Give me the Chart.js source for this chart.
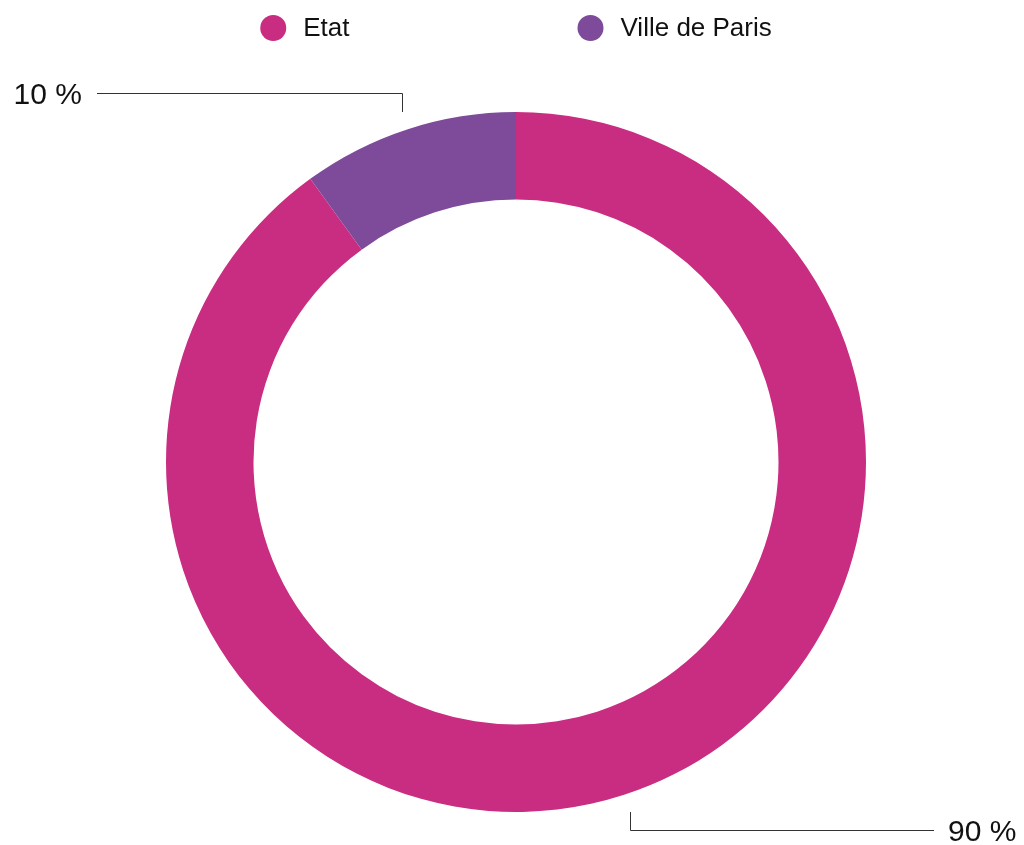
<!DOCTYPE html>
<html>
<head>
<meta charset="utf-8">
<script src="https://cdn.jsdelivr.net/npm/chart.js@4.4.1/dist/chart.umd.min.js"></script>
<style>
  html, body { margin: 0; padding: 0; background: #fff; }
  #wrap { width: 1024px; height: 845px; position: relative; }
</style>
</head>
<body>
<div id="wrap"><canvas id="donut"></canvas></div>
<script>
const labels = ['Etat', 'Ville de Paris'];
const values = [90, 10];
const colors = ['#C92D82', '#7E4A9A'];
const valueLabels = ['90 %', '10 %'];

const FONT = '"Liberation Sans", Arial, Helvetica, sans-serif';

// legend + leader-line labels drawn on the canvas
const extras = {
  id: 'extras',
  afterDraw(chart) {
    const ctx = chart.ctx;
    const area = chart.chartArea;
    const cx = (area.left + area.right) / 2;
    const arcs = chart.getDatasetMeta(0).data;

    // legend
    ctx.save();
    ctx.font = '26px ' + FONT;
    ctx.textBaseline = 'middle';
    const dot = 13, gapText = 17, gapItems = 228, ly = 28;
    const widths = labels.map(l => dot * 2 + gapText + ctx.measureText(l).width);
    const total = widths.reduce((a, b) => a + b, 0) + gapItems * (labels.length - 1);
    let x = cx - total / 2;
    labels.forEach((l, i) => {
      ctx.fillStyle = colors[i];
      ctx.beginPath();
      ctx.arc(x + dot, ly, dot, 0, Math.PI * 2);
      ctx.fill();
      ctx.fillStyle = '#111';
      ctx.textAlign = 'left';
      ctx.fillText(l, x + dot * 2 + gapText, ly + 1);
      x += widths[i] + gapItems;
    });

    // value labels with elbow leader lines
    ctx.strokeStyle = '#333';
    ctx.lineWidth = 1;
    ctx.font = '30px ' + FONT;
    arcs.forEach((arc, i) => {
      const mid = (arc.startAngle + arc.endAngle) / 2;
      const mx = Math.round(arc.x + Math.cos(mid) * (arc.outerRadius + 18)) + 0.5;
      const up = Math.sin(mid) < 0;
      ctx.beginPath();
      if (up) {
        const y0 = area.top, y1 = Math.round(area.top - 19) + 0.5;
        const xEnd = 97;
        ctx.moveTo(mx, y0); ctx.lineTo(mx, y1); ctx.lineTo(xEnd, y1);
        ctx.stroke();
        ctx.fillStyle = '#111';
        ctx.textAlign = 'right';
        ctx.fillText(valueLabels[i], xEnd - 15, y1 + 2);
      } else {
        const y0 = area.bottom, y1 = Math.round(area.bottom + 18) + 0.5;
        const xEnd = 934;
        ctx.moveTo(mx, y0); ctx.lineTo(mx, y1); ctx.lineTo(xEnd, y1);
        ctx.stroke();
        ctx.fillStyle = '#111';
        ctx.textAlign = 'left';
        ctx.fillText(valueLabels[i], xEnd + 14, y1 + 2);
      }
    });
    ctx.restore();
  }
};

new Chart(document.getElementById('donut').getContext('2d'), {
  type: 'doughnut',
  data: {
    labels: labels,
    datasets: [{
      data: values,
      backgroundColor: colors,
      borderWidth: 0
    }]
  },
  options: {
    responsive: true,
    maintainAspectRatio: false,
    animation: false,
    cutout: '75%',
    layout: { padding: { top: 112, bottom: 33, left: 166, right: 158 } },
    plugins: {
      legend: { display: false },
      tooltip: { enabled: false }
    }
  },
  plugins: [extras]
});
</script>
</body>
</html>
